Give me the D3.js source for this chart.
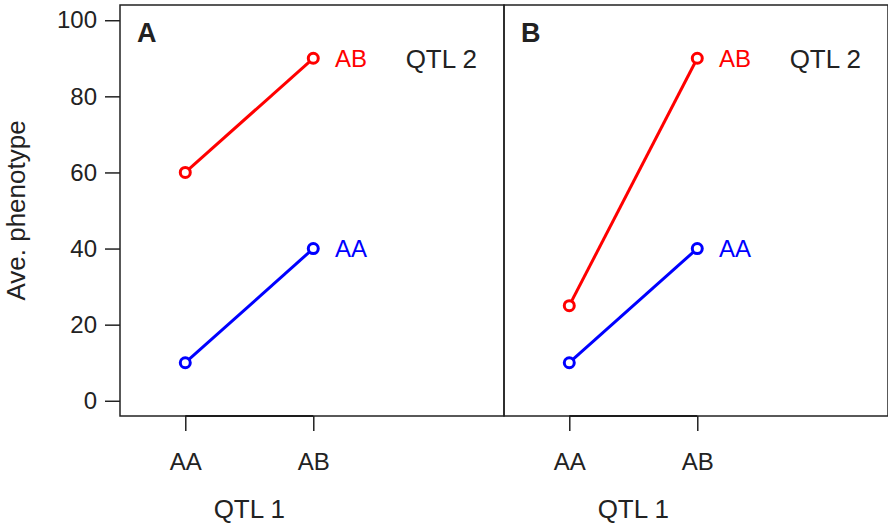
<!DOCTYPE html>
<html>
<head>
<meta charset="utf-8">
<script src="https://cdn.jsdelivr.net/npm/d3@7"></script>
<style>
  html, body { margin: 0; padding: 0; background: #fff; }
  svg text { font-family: "Liberation Sans", Arial, Helvetica, sans-serif; fill: #222; }
</style>
</head>
<body>
<svg id="chart" width="888" height="526"></svg>
<script>
// QTL 1 genotype categories (x positions 1 and 2)
const qtl1Genotypes = ["AA", "AB"];
// Average phenotype per QTL 2 genotype, panel A (additive)
const panelA_AA = [10, 40];
const panelA_AB = [60, 90];
// Panel B (epistatic)
const panelB_AA = [10, 40];
const panelB_AB = [25, 90];
const yTicks = [0, 20, 40, 60, 80, 100];
const panels = [
  { label: "A", series: [{ name: "AB", color: "#ff0000", values: panelA_AB }, { name: "AA", color: "#0000ff", values: panelA_AA }] },
  { label: "B", series: [{ name: "AB", color: "#ff0000", values: panelB_AB }, { name: "AA", color: "#0000ff", values: panelB_AA }] }
];

const svg = d3.select("#chart");
const plotTop = 5, plotBottom = 416, panelW = 384, firstLeft = 120;
const y = d3.scaleLinear().domain([-4, 104]).range([plotBottom, plotTop]);

// y axis on the first panel only
const yAxis = svg.append("g").attr("transform", `translate(${firstLeft},0)`)
  .call(d3.axisLeft(y).tickValues(yTicks).tickSize(15).tickPadding(8));
yAxis.select(".domain").remove();
yAxis.selectAll("line").attr("stroke", "#222").attr("stroke-width", 1.5);
yAxis.selectAll("text").attr("font-size", 24).style("fill", "#222");

svg.append("text")
  .attr("transform", `translate(25,${(plotTop + plotBottom) / 2}) rotate(-90)`)
  .attr("text-anchor", "middle").attr("font-size", 26).text("Ave. phenotype");

panels.forEach((p, i) => {
  const left = firstLeft + i * panelW;
  const x = d3.scaleLinear().domain([0.49, 3.49]).range([left, left + panelW]);
  const g = svg.append("g");

  // x axis with genotype labels
  const xAxis = g.append("g").attr("transform", `translate(0,${plotBottom})`)
    .call(d3.axisBottom(x).tickValues([1, 2]).tickFormat(d => qtl1Genotypes[d - 1]).tickSize(15).tickPadding(22));
  xAxis.select(".domain").remove();
  xAxis.selectAll("line").attr("stroke", "#222").attr("stroke-width", 1.5);
  xAxis.selectAll("text").attr("font-size", 24).style("fill", "#222");
  g.append("line").attr("x1", x(1)).attr("x2", x(2)).attr("y1", plotBottom).attr("y2", plotBottom)
    .attr("stroke", "#111").attr("stroke-width", 2);

  g.append("text").attr("x", x(1.5)).attr("y", 518).attr("text-anchor", "middle")
    .attr("font-size", 26).text("QTL 1");

  // lines and open points
  const line = d3.line().x((d, k) => x(k + 1)).y(d => y(d));
  p.series.forEach(s => {
    g.append("path").attr("d", line(s.values)).attr("fill", "none")
      .attr("stroke", s.color).attr("stroke-width", 3);
    g.selectAll(null).data(s.values).enter().append("circle")
      .attr("cx", (d, k) => x(k + 1)).attr("cy", d => y(d)).attr("r", 5)
      .attr("fill", "#fff").attr("stroke", s.color).attr("stroke-width", 3);
    g.append("text").attr("x", x(2.17)).attr("y", y(s.values[1]))
      .attr("dy", "0.36em").attr("font-size", 24).style("fill", s.color).text(s.name);
  });

  g.append("text").attr("x", x(3)).attr("y", y(90)).attr("dy", "0.36em")
    .attr("text-anchor", "middle").attr("font-size", 26).text("QTL 2");

  g.append("text").attr("x", left + 17).attr("y", 41.5)
    .attr("font-size", 27).attr("font-weight", "bold").text(p.label);

  // panel frame
  g.append("rect").attr("x", left).attr("y", plotTop).attr("width", panelW).attr("height", plotBottom - plotTop)
    .attr("fill", "none").attr("stroke", "#222").attr("stroke-width", 1.5);
});
</script>
</body>
</html>
